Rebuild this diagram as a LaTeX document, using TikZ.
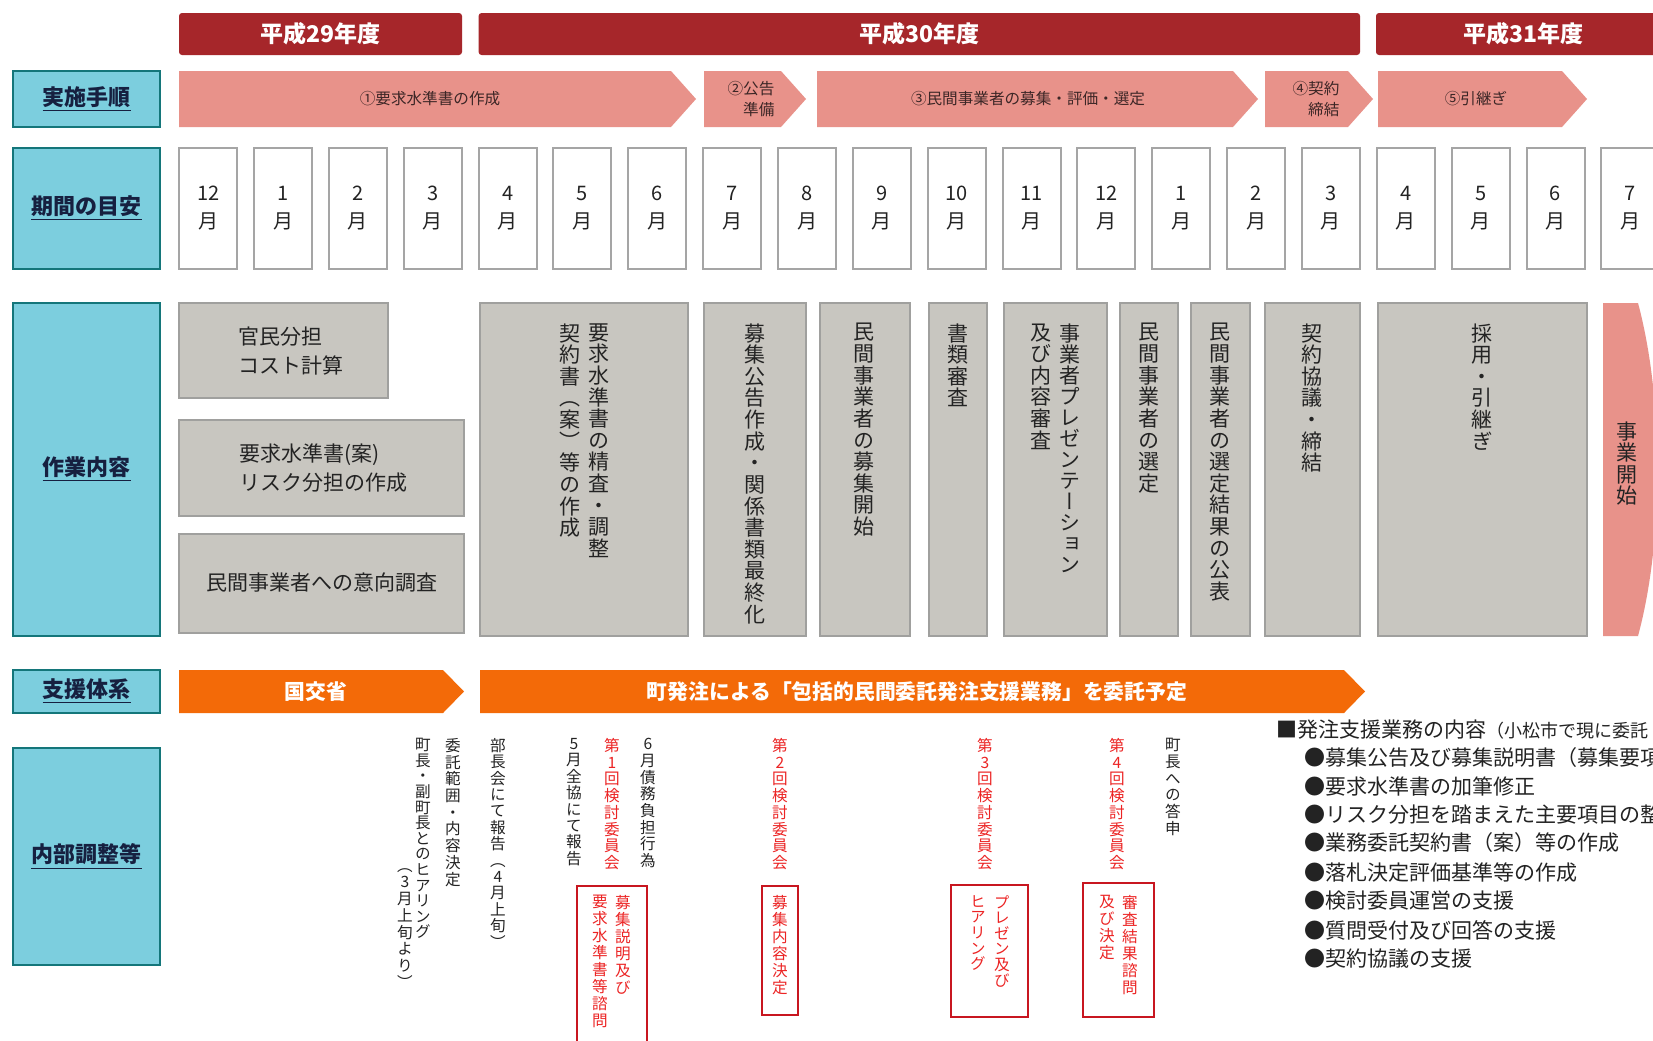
\documentclass[tikz,border=0pt]{standalone}
\usepackage{fontspec}
\setmainfont{Noto Sans CJK JP}
\newfontfamily\vfont[RawFeature=+vert]{Noto Sans CJK JP}
\ExplSyntaxOn
\NewDocumentCommand\vt{O{1.03}m}
 {
  \vbox{\vfont\baselineskip=#1em\lineskiplimit=-1000pt\relax
   \tl_map_inline:nn {#2} {\hbox_to_wd:nn {1em} {\hss##1\hss}}}
 }
\ExplSyntaxOff
\definecolor{yearred}{RGB}{166,38,42}
\definecolor{salmon}{RGB}{232,146,138}
\definecolor{lblfill}{RGB}{124,206,222}
\definecolor{lbledge}{RGB}{20,118,122}
\definecolor{lbltext}{RGB}{22,32,64}
\definecolor{boxgray}{RGB}{200,198,192}
\definecolor{boxedge}{RGB}{160,160,158}
\definecolor{monthedge}{RGB}{165,165,165}
\definecolor{orng}{RGB}{243,106,8}
\definecolor{annred}{RGB}{236,36,36}
\definecolor{boxred}{RGB}{200,22,32}
\definecolor{txtdark}{RGB}{35,35,35}
\definecolor{chevtext}{RGB}{60,38,38}
\newcommand\chevron[6]{\fill[#6] (#1,#3) -- ({#2-#5},#3) -- (#2,{(#3+#4)/2}) -- ({#2-#5},#4) -- (#1,#4) -- cycle;}
\begin{document}
\begin{tikzpicture}[x=0.5pt,y=-0.5pt,
  yearbar/.style={fill=yearred, rounded corners=1.5pt, inner sep=0pt, text=white, font=\fontsize{11.5}{13}\selectfont\bfseries},
  lbl/.style={draw=lbledge, fill=lblfill, line width=1.4pt, inner sep=0pt, text=lbltext, font=\fontsize{11}{13}\selectfont\bfseries},
  month/.style={draw=monthedge, fill=white, line width=1pt, inner sep=0pt, minimum width=29pt, minimum height=60.5pt, align=center, text=txtdark, font=\fontsize{10}{14}\selectfont},
  gbox/.style={draw=boxedge, fill=boxgray, line width=0.8pt, inner sep=0pt},
  htxt/.style={inner sep=0pt, text=txtdark, font=\fontsize{10.5}{14.3}\selectfont},
  vtxt/.style={inner sep=0pt, anchor=north, text=txtdark, font=\fontsize{10.5}{12}\selectfont},
  chevtxt/.style={inner sep=0pt, text=chevtext, font=\fontsize{7.8}{10.5}\selectfont},
  orgtxt/.style={inner sep=0pt, text=white, font=\fontsize{10.4}{12}\selectfont\bfseries},
  anntxt/.style={inner sep=0pt, anchor=north, text=txtdark, font=\fontsize{7.8}{9}\selectfont},
  redtxt/.style={anntxt, text=annred},
  redbox/.style={draw=boxred, line width=1.3pt, inner sep=0pt},
  listtxt/.style={inner sep=0pt, anchor=west, text=txtdark, font=\fontsize{10.5}{12}\selectfont},
]
\useasboundingbox (0,0) rectangle (1653,1040);
\fill[white] (0,0) rectangle (1653,1040);

% year bars
\node[yearbar, minimum width=141.5pt, minimum height=21pt] (y29) at (320.5,34) {平成29年度};
\node[yearbar, minimum width=440.7pt, minimum height=21pt] (y30) at (919.3,34) {平成30年度};
\node[yearbar, minimum width=147pt, minimum height=21pt] (y31) at (1523,34) {平成31年度};

% row labels
\node[lbl, minimum width=73.5pt, minimum height=28pt] (L1) at (86.5,99) {\underline{実施手順}};
\node[lbl, minimum width=73.5pt, minimum height=60.5pt] (L2) at (86.5,208.5) {\underline{期間の目安}};
\node[lbl, minimum width=73.5pt, minimum height=166.5pt] (L3) at (86.5,469.5) {\underline{作業内容}};
\node[lbl, minimum width=73.5pt, minimum height=21.5pt] (L4) at (86.5,691.5) {\underline{支援体系}};
\node[lbl, minimum width=73.5pt, minimum height=108.5pt] (L5) at (86.5,856.5) {\underline{内部調整等}};

% procedure chevrons
\chevron{179}{696}{71}{127}{25}{salmon}
\chevron{704}{806}{71}{127}{25}{salmon}
\chevron{817}{1258}{71}{127}{25}{salmon}
\chevron{1265}{1373}{71}{127}{25}{salmon}
\chevron{1378}{1587}{71}{127}{25}{salmon}
\node[chevtxt] (p1) at (430,99) {①要求水準書の作成};
\node[chevtxt, align=right] (p2) at (751,99) {②公告\\準備};
\node[chevtxt] (p3) at (1028,99) {③民間事業者の募集・評価・選定};
\node[chevtxt, align=right] (p4) at (1316,99) {④契約\\締結};
\node[chevtxt] (p5) at (1476,99) {⑤引継ぎ};

% months
\foreach \m [count=\i from 0] in {12,1,2,3,4,5,6,7,8,9,10,11,12,1,2,3,4,5,6,7}
  \node[month] (m\i) at ({208.2+74.85*\i},208.5) {\raisebox{-2pt}{\m}\\\raisebox{-2pt}{月}};

% work boxes (horizontal)
\node[gbox, minimum width=104.5pt, minimum height=47.5pt] (g1) at (283.5,350.5) {};
\node[gbox, minimum width=142.5pt, minimum height=48pt] (g2) at (321.5,468) {};
\node[gbox, minimum width=142.5pt, minimum height=49.5pt] (g3) at (321.5,583.5) {};
\node[htxt, align=left] (g1t) at (291,351) {官民分担\\コスト計算};
\node[htxt, align=left] (g2t) at (323,468) {要求水準書(案)\\リスク分担の作成};
\node[htxt] (g3t) at (322,583) {民間事業者への意向調査};

% work boxes (vertical)
\node[gbox, minimum width=104pt, minimum height=166.5pt] (v1) at (584,469.5) {};
\node[gbox, minimum width=51pt, minimum height=166.5pt] (v2) at (755,469.5) {};
\node[gbox, minimum width=45pt, minimum height=166.5pt] (v3) at (865,469.5) {};
\node[gbox, minimum width=29pt, minimum height=166.5pt] (v4) at (958,469.5) {};
\node[gbox, minimum width=51.5pt, minimum height=166.5pt] (v5) at (1055.5,469.5) {};
\node[gbox, minimum width=29pt, minimum height=166.5pt] (v6) at (1149,469.5) {};
\node[gbox, minimum width=29.5pt, minimum height=166.5pt] (v7) at (1220.5,469.5) {};
\node[gbox, minimum width=47.5pt, minimum height=166.5pt] (v8) at (1312.5,469.5) {};
\node[gbox, minimum width=104.5pt, minimum height=166.5pt] (v9) at (1482.5,469.5) {};
\fill[salmon] (1603,303) -- (1638,303) .. controls (1664,400) and (1664,540) .. (1638,636) -- (1603,636) -- cycle;

\node[vtxt] (v1a) at (599,323) {\vt{要求水準書の精査・調整}};
\node[vtxt] (v1b) at (570,323) {\vt{契約書（案）等の作成}};
\node[vtxt] (v2t) at (755,323) {\vt{募集公告作成・関係書類最終化}};
\node[vtxt] (v3t) at (864,323) {\vt{民間事業者の募集開始}};
\node[vtxt] (v4t) at (958,323) {\vt{書類審査}};
\node[vtxt] (v5a) at (1070,323) {\vt[1.0]{事業者プレゼンテーション}};
\node[vtxt] (v5b) at (1041,323) {\vt{及び内容審査}};
\node[vtxt] (v6t) at (1149,323) {\vt{民間事業者の選定}};
\node[vtxt] (v7t) at (1220,323) {\vt{民間事業者の選定結果の公表}};
\node[vtxt] (v8t) at (1312,323) {\vt{契約協議・締結}};
\node[vtxt] (v9t) at (1482,323) {\vt{採用・引継ぎ}};
\node[vtxt] (v10t) at (1627,421) {\vt{事業開始}};

% support arrows
\chevron{179}{464}{670}{713}{21}{orng}
\chevron{480}{1365}{670}{713}{21}{orng}
\node[orgtxt] (s1) at (316,691.5) {国交省};
\node[orgtxt] (s2) at (917,691.5) {町発注による「包括的民間委託発注支援業務」を委託予定};

% internal coordination
\node[anntxt] (a1) at (453,738) {\vt[1.07]{委託範囲・内容決定}};
\node[anntxt] (a2) at (423,738) {\vt[1.0]{町長・副町長とのヒアリング}};
\node[anntxt] (a3) at (405,868) {\vt[1.07]{（3月上旬より）}};
\node[anntxt] (a4) at (498,738) {\vt[1.05]{部長会にて報告（4月上旬）}};
\node[anntxt] (a5) at (574,738) {\vt[1.05]{5月全協にて報告}};
\node[redtxt] (a6) at (612,738) {\vt[1.07]{第1回検討委員会}};
\node[anntxt] (a7) at (648,738) {\vt[1.07]{6月債務負担行為}};
\node[redtxt] (a8) at (780,738) {\vt[1.07]{第2回検討委員会}};
\node[redtxt] (a9) at (985,738) {\vt[1.07]{第3回検討委員会}};
\node[redtxt] (a10) at (1117,738) {\vt[1.07]{第4回検討委員会}};
\node[anntxt] (a11) at (1173,738) {\vt[1.07]{町長への答申}};

\node[redbox, minimum width=35pt, minimum height=87pt] (b1) at (612,973) {};
\node[redbox, minimum width=18pt, minimum height=64.5pt] (b2) at (780,950.5) {};
\node[redbox, minimum width=38.5pt, minimum height=66pt] (b3) at (989.5,951) {};
\node[redbox, minimum width=35.5pt, minimum height=67pt] (b4) at (1118.5,950) {};
\node[redtxt] (b1a) at (623,895) {\vt[1.09]{募集説明及び}};
\node[redtxt] (b1b) at (600,895) {\vt[1.09]{要求水準書等諮問}};
\node[redtxt] (b2t) at (780,895) {\vt[1.09]{募集内容決定}};
\node[redtxt] (b3a) at (1002,895) {\vt[1.0]{プレゼン及び}};
\node[redtxt] (b3b) at (978,895) {\vt[1.0]{ヒアリング}};
\node[redtxt] (b4a) at (1130,895) {\vt[1.09]{審査結果諮問}};
\node[redtxt] (b4b) at (1107,895) {\vt[1.09]{及び決定}};

% support contents list
\node[listtxt] (h0) at (1276,729.5) {■発注支援業務の内容{\fontsize{9}{11}\selectfont （小松市で現に委託}};
\node[listtxt] (h1) at (1304,758) {●募集公告及び募集説明書（募集要項};
\node[listtxt] (h2) at (1304,786.5) {●要求水準書の加筆修正};
\node[listtxt] (h3) at (1304,815) {●リスク分担を踏まえた主要項目の整};
\node[listtxt] (h4) at (1304,843) {●業務委託契約書（案）等の作成};
\node[listtxt] (h5) at (1304,873) {●落札決定評価基準等の作成};
\node[listtxt] (h6) at (1304,901) {●検討委員運営の支援};
\node[listtxt] (h7) at (1304,930) {●質問受付及び回答の支援};
\node[listtxt] (h8) at (1304,959) {●契約協議の支援};
\end{tikzpicture}
\end{document}
